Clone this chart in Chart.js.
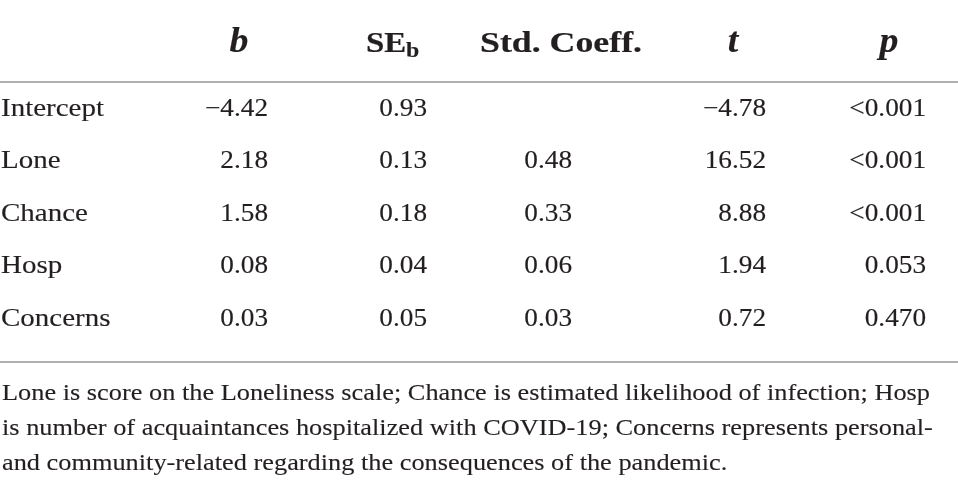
<!DOCTYPE html>
<html>
<head>
<meta charset="utf-8">
<script src="https://cdn.jsdelivr.net/npm/chart.js@4.4.1/dist/chart.umd.min.js"></script>
<style>
  html, body { margin: 0; padding: 0; background: #ffffff; }
  #wrap { width: 958px; height: 489px; position: relative; }
</style>
</head>
<body>
<div id="wrap"><canvas id="c"></canvas></div>
<script>
// ---- Data ----
const rowLabels = ['Intercept', 'Lone', 'Chance', 'Hosp', 'Concerns'];
const coefB     = [-4.42, 2.18, 1.58, 0.08, 0.03];
const seB       = [0.93, 0.13, 0.18, 0.04, 0.05];
const stdCoeff  = [null, 0.48, 0.33, 0.06, 0.03];
const tValues   = [-4.78, 16.52, 8.88, 1.94, 0.72];
const pValues   = ['<0.001', '<0.001', '<0.001', '0.053', '0.470'];
const footnoteLines = [
  'Lone is score on the Loneliness scale; Chance is estimated likelihood of infection; Hosp',
  'is number of acquaintances hospitalized with COVID-19; Concerns represents personal-',
  'and community-related regarding the consequences of the pandemic.'
];

// ---- Layout / style ----
const TEXT = '#231f20';
const RULE = '#b1b1b1';
const SERIF = '"Liberation Serif", "Times New Roman", serif';
const colRight = { b: 268, se: 427, std: 572, t: 766, p: 926 };
const headCenter = { b: 239, t: 733, p: 889 };

function fmt(v, dec) {
  if (v === null || v === undefined) return '';
  const s = Math.abs(v).toFixed(dec);
  return v < 0 ? '\u2212' + s : s;
}

function drawText(ctx, s, x, y, align, font, sx, sw) {
  ctx.save();
  ctx.font = font;
  ctx.fillStyle = TEXT;
  ctx.strokeStyle = TEXT;
  ctx.textAlign = align;
  ctx.textBaseline = 'alphabetic';
  ctx.translate(x, y);
  ctx.scale(sx, 1);
  ctx.fillText(s, 0, 0);
  if (sw) { ctx.lineWidth = sw; ctx.lineJoin = 'round'; ctx.strokeText(s, 0, 0); }
  ctx.restore();
}
function measure(ctx, s, font) {
  ctx.save(); ctx.font = font; const w = ctx.measureText(s).width; ctx.restore(); return w;
}

const tablePlugin = {
  id: 'regTable',
  afterDraw(chart) {
    const ctx = chart.ctx;
    const area = chart.chartArea;
    const y = chart.scales.y;

    const bodyFont = '25px ' + SERIF;
    const headFont = 'bold 30px ' + SERIF;
    const headItal = 'italic bold 36px ' + SERIF;
    const subFont = 'bold 20px ' + SERIF;
    const noteFont = '22.5px ' + SERIF;

    const sxBody = 103 / measure(ctx, 'Intercept', bodyFont);
    const sxHead = 162 / measure(ctx, 'Std. Coeff.', headFont);
    const sxNote = 928 / measure(ctx, footnoteLines[0], noteFont);

    // header
    const hb = 52;
    drawText(ctx, 'b', headCenter.b, hb, 'center', headItal, 1.05, 0.15);
    drawText(ctx, 'SE', 366, hb, 'left', headFont, sxHead * 0.92, 0.2);
    drawText(ctx, 'b', 406, hb + 5, 'left', subFont, sxHead, 0.15);
    drawText(ctx, 'Std. Coeff.', 480, hb, 'left', headFont, sxHead, 0.2);
    drawText(ctx, 't', headCenter.t, hb, 'center', headItal, 1.05, 0.15);
    drawText(ctx, 'p', headCenter.p, hb, 'center', headItal, 1.05, 0.15);

    // rules
    ctx.save();
    ctx.strokeStyle = RULE;
    ctx.lineWidth = 2;
    ctx.beginPath();
    ctx.moveTo(0, area.top + 1); ctx.lineTo(958, area.top + 1);
    ctx.moveTo(0, area.bottom + 18.5); ctx.lineTo(958, area.bottom + 18.5);
    ctx.stroke();
    ctx.restore();

    // body rows
    rowLabels.forEach((lab, i) => {
      const cy = y.getPixelForValue(i) + 8.5;
      const sn = sxBody * 0.94;
      drawText(ctx, lab, 1, cy, 'left', bodyFont, sxBody, 0.15);
      drawText(ctx, fmt(coefB[i], 2), colRight.b, cy, 'right', bodyFont, sn, 0.15);
      drawText(ctx, fmt(seB[i], 2), colRight.se, cy, 'right', bodyFont, sn, 0.15);
      drawText(ctx, fmt(stdCoeff[i], 2), colRight.std, cy, 'right', bodyFont, sn, 0.15);
      drawText(ctx, fmt(tValues[i], 2), colRight.t, cy, 'right', bodyFont, sn, 0.15);
      drawText(ctx, pValues[i], colRight.p, cy, 'right', bodyFont, sn, 0.15);
    });

    // footnote
    footnoteLines.forEach((line, i) => {
      drawText(ctx, line, 2, area.bottom + 56.5 + i * 35, 'left', noteFont, sxNote, 0.12);
    });
  }
};

new Chart(document.getElementById('c'), {
  type: 'bar',
  data: { labels: rowLabels, datasets: [] },
  options: {
    responsive: true,
    maintainAspectRatio: false,
    animation: false,
    events: [],
    layout: { padding: { top: 81, bottom: 145.5, left: 0, right: 0 } },
    plugins: { legend: { display: false }, tooltip: { enabled: false }, title: { display: false } },
    scales: {
      y: { type: 'category', display: false, offset: true },
      x: { type: 'linear', display: false }
    }
  },
  plugins: [tablePlugin]
});
</script>
</body>
</html>
